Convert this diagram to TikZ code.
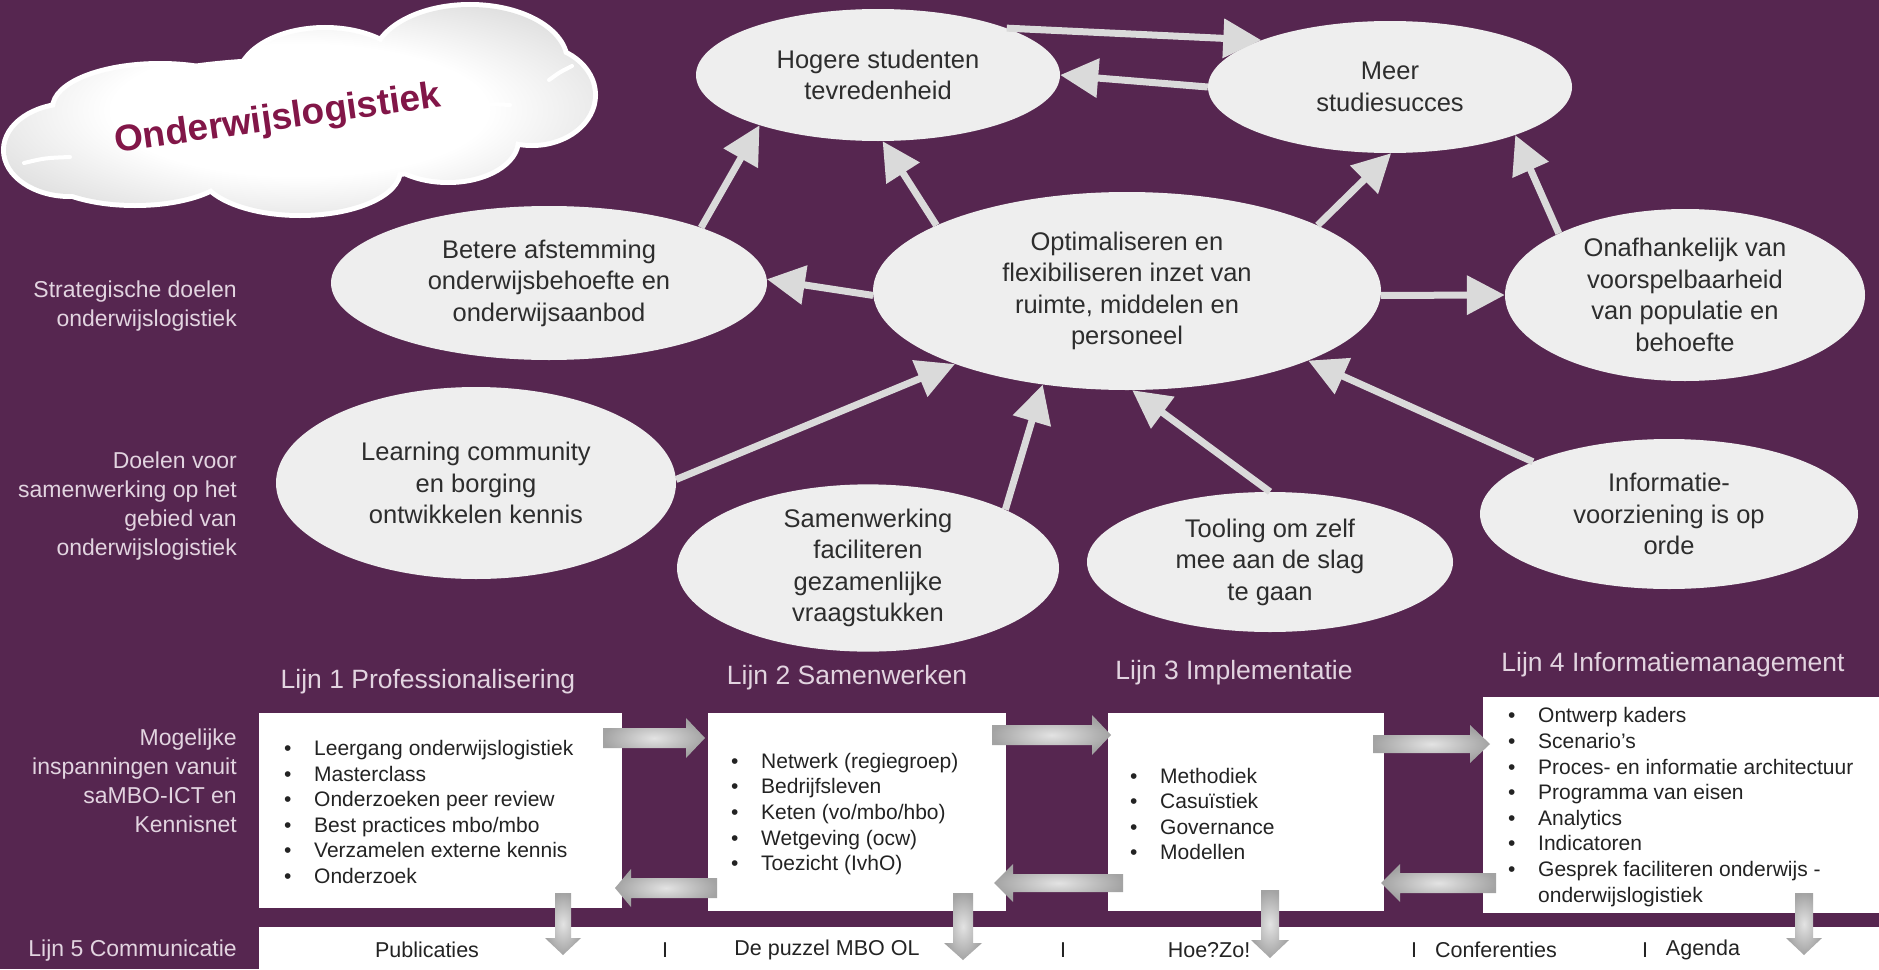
\documentclass[tikz,border=0pt]{standalone}
\usepackage{fontspec}
\setmainfont{Liberation Sans}
\usetikzlibrary{arrows.meta,shapes.geometric}
\definecolor{bgpurple}{RGB}{86,38,80}
\definecolor{ellfill}{RGB}{238,238,238}
\definecolor{arrowgray}{RGB}{218,218,218}
\definecolor{labeltext}{RGB}{226,212,224}
\definecolor{darktext}{RGB}{45,45,45}
\definecolor{boxtext}{RGB}{35,35,35}
\definecolor{cloudtext}{RGB}{130,22,72}
\pgfdeclareradialshading{cloudshade}{\pgfpoint{0bp}{0bp}}{color(0bp)=(white); color(16bp)=(white); color(40bp)=(gray!42); color(50bp)=(gray!52)}
\newcommand{\blockH}[6]{\shade[blockarrow] (#1,#4-#5) -- (#2,#4-#5) -- (#2,#4-#6) -- (#3,#4) -- (#2,#4+#6) -- (#2,#4+#5) -- (#1,#4+#5) -- cycle;}
\newcommand{\blockV}[6]{\shade[blockarrow] (#1-#5,#2) -- (#1+#5,#2) -- (#1+#5,#3) -- (#1+#6,#3) -- (#1,#4) -- (#1-#6,#3) -- (#1-#5,#3) -- cycle;}
\newcommand{\bul}{\makebox[30pt][l]{\textbullet}}
\newcommand{\cloudlobes}{%
  (70,150) ellipse [x radius=64, y radius=44]
  (135,166) ellipse [x radius=95, y radius=37]
  (300,170) ellipse [x radius=98, y radius=43]
  (448,140) ellipse [x radius=68, y radius=40]
  (532,95) ellipse [x radius=61, y radius=48]
  (470,62) ellipse [x radius=95, y radius=55]
  (325,80) ellipse [x radius=85, y radius=50]
  (160,108) ellipse [x radius=105, y radius=42]
  (300,120) ellipse [x radius=225, y radius=58]}
\tikzset{
  ell/.style={ellipse, fill=ellfill, text=darktext, align=center, inner sep=0pt,
    font=\fontsize{25.5}{31.5}\selectfont},
  conn/.style={draw=arrowgray, line width=7pt, -{Triangle[length=38pt,width=38pt]}},
  sidelabel/.style={anchor=east, align=right, text=labeltext, inner sep=0pt,
    font=\fontsize{23}{29}\selectfont},
  linetitle/.style={text=labeltext, inner sep=0pt, font=\fontsize{26.5}{30}\selectfont},
  whitebox/.style={fill=white, anchor=north west, inner sep=0pt},
  boxlist/.style={anchor=west, align=left, text=boxtext, inner sep=0pt,
    font=\fontsize{21}{25.6}\selectfont},
  stripitem/.style={text=boxtext, inner sep=0pt, font=\fontsize{21.5}{25}\selectfont},
  blockarrow/.style={shading=radial, inner color=gray!22, outer color=gray!72},
  crease/.style={draw=white, line width=4pt, line cap=round}
}
\begin{document}
\begin{tikzpicture}[x=1pt,y=-1pt]
\fill[bgpurple] (0,0) rectangle (1879,969);
\useasboundingbox (0,0) rectangle (1879,969);

% cloud
\path[draw=white, line width=10pt] \cloudlobes;
\shade[shading=cloudshade] \cloudlobes;
\draw[crease] (549,80) .. controls (560,72) .. (572,66);
\draw[crease] (470,108) .. controls (490,104) .. (510,105);
\draw[crease] (24,163) .. controls (45,158) .. (70,157);
\node[rotate=8, text=cloudtext, font=\fontsize{37}{42}\selectfont\bfseries] (cloudtxt) at (278,120) {Onderwijslogistiek};

% ellipses
\node[ell, minimum width=364, minimum height=132] (hog) at (878,75) {Hogere studenten\\tevredenheid};
\node[ell, minimum width=364, minimum height=132] (meer) at (1390,87) {Meer\\studiesucces};
\node[ell, minimum width=436, minimum height=154] (bet) at (549,283) {Betere afstemming\\onderwijsbehoefte en\\onderwijsaanbod};
\node[ell, minimum width=508, minimum height=198] (opt) at (1127,291) {Optimaliseren en\\flexibiliseren inzet van\\ruimte, middelen en\\personeel};
\node[ell, minimum width=360, minimum height=172] (onaf) at (1685,295) {Onafhankelijk van\\voorspelbaarheid\\van populatie en\\behoefte};
\node[ell, minimum width=400, minimum height=192] (learn) at (476,483) {Learning community\\en borging\\ontwikkelen kennis};
\node[ell, minimum width=382, minimum height=160] (sam) at (868,568) {Samenwerking\\faciliteren\\gezamenlijke\\vraagstukken};
\node[ell, minimum width=366, minimum height=140] (tool) at (1270,562) {Tooling om zelf\\mee aan de slag\\te gaan};
\node[ell, minimum width=378, minimum height=150] (info) at (1669,514) {Informatie-\\voorziening is op\\orde};

% connectors
\draw[conn] (hog.20) -- (meer.160);
\draw[conn] (meer.180) -- (hog.0);
\draw[conn] (bet.20) -- (hog.203);
\draw[conn] (opt.161) -- (hog.274);
\draw[conn] (opt.19) -- (meer.271);
\draw[conn] (onaf.154) -- (meer.339);
\draw[conn] (opt.181) -- (bet.1);
\draw[conn] (opt.359) -- (onaf.180);
\draw[conn] (learn.1) -- (opt.203);
\draw[conn] (sam.23) -- (opt.228);
\draw[conn] (tool.90) -- (opt.273);
\draw[conn] (info.159) -- (opt.339);

% side labels
\node[sidelabel] (sl1) at (237,306) {Strategische doelen\\onderwijslogistiek};
\node[sidelabel] (sl2) at (237,506) {Doelen voor\\samenwerking op het\\gebied van\\onderwijslogistiek};
\node[sidelabel] (sl3) at (237,781) {Mogelijke\\inspanningen vanuit\\saMBO-ICT en\\Kennisnet};
\node[sidelabel] (sl4) at (237,951) {Lijn 5 Communicatie};

% line titles
\node[linetitle] (t1) at (428,682) {Lijn 1 Professionalisering};
\node[linetitle] (t2) at (847,678) {Lijn 2 Samenwerken};
\node[linetitle] (t3) at (1234,673) {Lijn 3 Implementatie};
\node[linetitle] (t4) at (1673,665) {Lijn 4 Informatiemanagement};

% white boxes
\node[whitebox, minimum width=363, minimum height=195] (box1) at (259,713) {};
\node[whitebox, minimum width=298, minimum height=198] (box2) at (708,713) {};
\node[whitebox, minimum width=276, minimum height=198] (box3) at (1108,713) {};
\node[whitebox, minimum width=396, minimum height=216] (box4) at (1483,697) {};
\node[whitebox, minimum width=1620, minimum height=42] (strip) at (259,927) {};

% block arrows
\blockH{603}{686}{705}{738}{10}{20}
\blockH{717}{631}{615}{888}{10}{19}
\blockH{992}{1092}{1111}{735}{10}{20}
\blockH{1123}{1013}{994}{883}{9}{19}
\blockH{1373}{1470}{1490}{744}{9}{19}
\blockH{1496}{1400}{1381}{883}{10}{19}
\blockV{563}{893}{938}{955}{8}{18}
\blockV{963}{893}{943}{960}{10}{19}
\blockV{1270}{890}{940}{958}{9}{19}
\blockV{1804}{893}{938}{955}{9}{18}

% box contents
\node[boxlist] (l1) at (284,812) {\bul Leergang onderwijslogistiek\\\bul Masterclass\\\bul Onderzoeken peer review\\\bul Best practices mbo/mbo\\\bul Verzamelen externe kennis\\\bul Onderzoek};
\node[boxlist] (l2) at (731,814) {\bul Netwerk (regiegroep)\\\bul Bedrijfsleven\\\bul Keten (vo/mbo/hbo)\\\bul Wetgeving (ocw)\\\bul Toezicht (IvhO)};
\node[boxlist] (l3) at (1130,814) {\bul Methodiek\\\bul Casuïstiek\\\bul Governance\\\bul Modellen};
\node[boxlist] (l4) at (1508,807) {\bul Ontwerp kaders\\\bul Scenario's\\\bul Proces- en informatie architectuur\\\bul Programma van eisen\\\bul Analytics\\\bul Indicatoren\\\bul Gesprek faciliteren onderwijs -\\\makebox[30pt][l]{}onderwijslogistiek};

% strip items
\node[stripitem] (s1) at (427,950) {Publicaties};
\node[stripitem] (s2) at (665,950) {I};
\node[stripitem] (s3) at (827,950) {De puzzel MBO OL};
\node[stripitem] (s4) at (1063,950) {I};
\node[stripitem] (s5) at (1209,950) {Hoe?Zo!};
\node[stripitem] (s6) at (1414,950) {I};
\node[stripitem] (s7) at (1496,950) {Conferenties};
\node[stripitem] (s8) at (1645,950) {I};
\node[stripitem] (s9) at (1703,950) {Agenda};
\end{tikzpicture}
\end{document}
